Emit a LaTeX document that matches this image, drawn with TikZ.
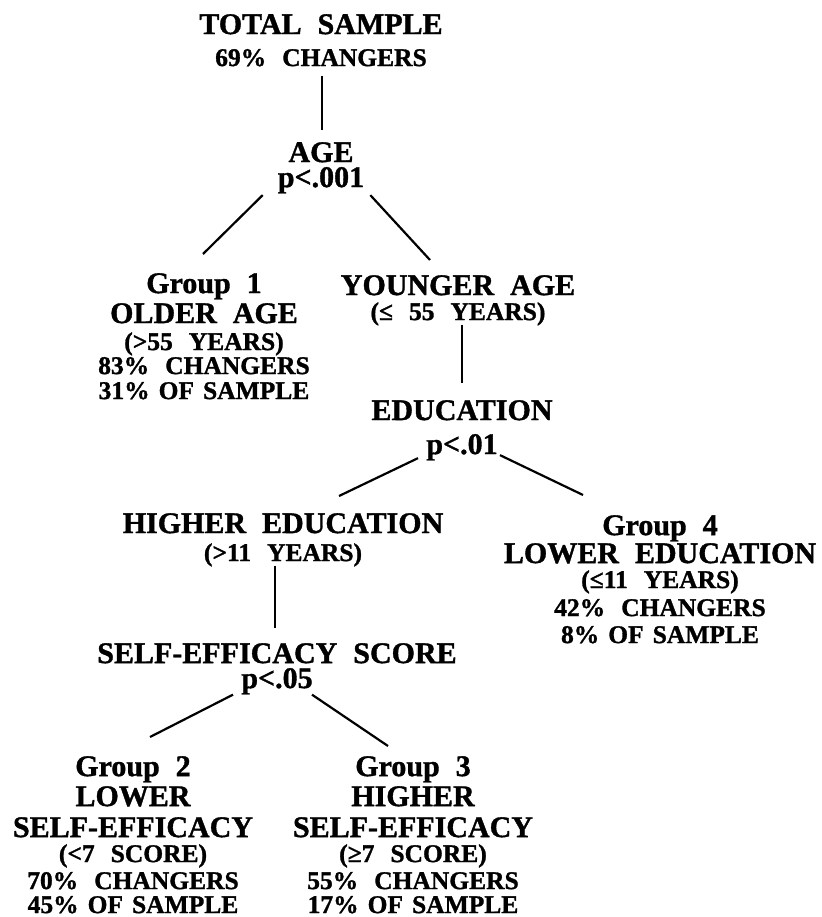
\documentclass[tikz,border=0pt]{standalone}
\usepackage{fontspec}
\setmainfont{Liberation Serif}[BoldFeatures={FakeBold=1.2}]
\newcommand\sm{\fontsize{25.5}{26}\selectfont}
\newcommand\nsp{\spaceskip=9pt\relax}
\begin{document}
\begin{tikzpicture}[
        x=1pt, y=-1pt,
        lbl/.style={
            anchor=north,
            align=center,
            inner sep=0pt,
            font={\bfseries\fontsize{30}{26}\selectfont\spaceskip=16pt\relax\lineskiplimit=-100pt\relax}
        },
        edge/.style={
            line width=2.2pt,
            draw=black
        }
    ]
    \useasboundingbox (0,0) rectangle (821,917);

    \node[lbl] (total) at (321,14)
    {TOTAL SAMPLE\\[6pt]{\sm 69\% CHANGERS}};

    \node[lbl] (age) at (321,142)
    {AGE\\[-1pt]p<.001};

    \node[lbl] (grp1) at (204,273)
    {Group 1\\[4pt]OLDER AGE\\[1pt]{\sm (>55 YEARS)}\\[-2pt]{\sm 83\% CHANGERS}\\[-1pt]{\sm\nsp 31\% OF SAMPLE}};

    \node[lbl] (young) at (458,275)
    {YOUNGER AGE\\[-1pt]{\sm (≤ 55 YEARS)}};

    \node[lbl] (educ) at (462,400)
    {EDUCATION\\[8pt]p<.01};

    \node[lbl] (higher) at (283,513)
    {HIGHER EDUCATION\\[2pt]{\sm (>11 YEARS)}};

    \node[lbl] (grp4) at (660,515)
    {Group 4\\[2pt]LOWER EDUCATION\\[-1pt]{\sm (≤11 YEARS)}\\[2pt]{\sm 42\% CHANGERS}\\[1pt]{\sm\nsp 8\% OF SAMPLE}};

    \node[lbl] (self) at (277,643)
    {SELF-EFFICACY SCORE\\[-1pt]p<.05};

    \node[lbl] (grp2) at (133,756)
    {Group 2\\[4pt]LOWER\\[5pt]SELF-EFFICACY\\[-1pt]{\sm (<7 SCORE)}\\[1pt]{\sm 70\% CHANGERS}\\[-2pt]{\sm\nsp 45\% OF SAMPLE}};

    \node[lbl] (grp3) at (413,756)
    {Group 3\\[4pt]HIGHER\\[5pt]SELF-EFFICACY\\[-1pt]{\sm (≥7 SCORE)}\\[1pt]{\sm 55\% CHANGERS}\\[-2pt]{\sm\nsp 17\% OF SAMPLE}};

    \draw[edge] ([shift={(1,9)}]total.south) -- ([shift={(1,-12)}]age.north);
    \draw[edge] ([shift={(-15,1.5)}]age.south west) -- ([shift={(-1,-19)}]grp1.north);
    \draw[edge] ([shift={(6,1.5)}]age.south east) -- ([shift={(-28,-15)}]young.north);
    \draw[edge] ([shift={(4,-1)}]young.south) -- ([shift={(0,-17)}]educ.north);
    \draw[edge] ([shift={(-44,-2.5)}]educ.south) -- ([shift={(56,-17)}]higher.north);
    \draw[edge] ([shift={(38,-5.5)}]educ.south) -- ([shift={(-77,-20)}]grp4.north);
    \draw[edge] ([shift={(-8,-1)}]higher.south) -- ([shift={(-2,-15)}]self.north);
    \draw[edge] ([shift={(-44,0)}]self.south) -- ([shift={(17,-19)}]grp2.north);
    \draw[edge] ([shift={(35,0)}]self.south) -- ([shift={(-25,-10)}]grp3.north);

\end{tikzpicture}
\end{document}
